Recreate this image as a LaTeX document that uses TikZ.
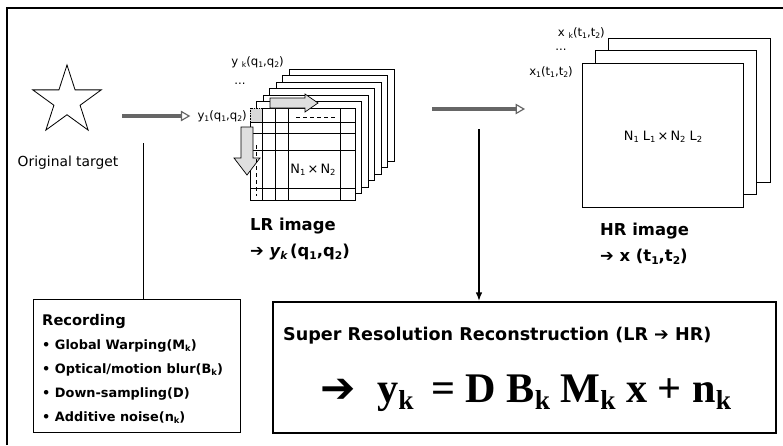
\documentclass[tikz,border=0pt]{standalone}
\usepackage{fontspec}
\setmainfont{DejaVu Sans}
\newfontfamily\eqfont{Liberation Serif}
\usetikzlibrary{arrows.meta,calc,positioning,shapes.geometric}
\newcommand{\lo}[1]{\raisebox{-0.35ex}{\scalebox{0.65}{#1}}}

\begin{document}
\begin{tikzpicture}[x=0.03cm,y=-0.03cm,
  every node/.style={font=\fontsize{11}{13}\selectfont,inner sep=0pt},
  lbl/.style={font=\fontsize{10}{12}\selectfont},
  capt/.style={font=\fontsize{14}{16}\selectfont\bfseries,anchor=west},
  frm/.style={draw,fill=white,line width=0.8pt},
  cell/.style={draw,line width=0.6pt},
  blk/.style={draw,fill=gray!25,line width=0.6pt},
  grayarr/.style={-{Triangle[open,length=8pt,width=9pt,line width=1pt]},line width=3pt,draw=black!60},
  arr/.style={-{Latex[length=2.6mm,width=2mm]},line width=1.3pt}
]
\useasboundingbox (0,0) rectangle (783,445);
\draw[line width=0.9pt] (7,445) -- (7,8) -- (783,8);

% original target
\node[star,star points=5,star point ratio=2.618,draw,line width=0.7pt,
  minimum size=2.16cm] (star) at (67,101) {};
\node[font=\fontsize{11.8}{14}\selectfont] (orig) at (68,163) {Original target};

% LR stack
\foreach \k in {6,5,...,1}
  \draw[frm] ({250+6.5*\k},{108-6.5*\k}) rectangle ({355+6.5*\k},{200-6.5*\k});
\draw[frm] (250,108) rectangle (355,200);
\fill[gray!30] (250,108) rectangle (262,122);
\draw[densely dotted] (250,108) rectangle (262,122);
\foreach \gx in {262,275,288,340}
  \draw[cell] (\gx,108) -- (\gx,200);
\foreach \gy in {122,133,150,188}
  \draw[cell] (250,\gy) -- (355,\gy);
\draw[blk] (270,98) -- (305,98) -- (305,94) -- (318,103) -- (305,112)
  -- (305,108) -- (270,108) -- cycle;
\draw[dashed] (296,117) -- (338,117);
\draw[blk] (241,127) -- (253,127) -- (253,158) -- (260,158) -- (247,175)
  -- (234,158) -- (241,158) -- cycle;
\draw[dashed] (256,145) -- (256,196);
\node[lbl,anchor=east] (y1) at (247,116) {y\lo{1}(q\lo{1},q\lo{2})};
\node[lbl] (ydots) at (240,84) {...};
\node[lbl,anchor=east] (yk) at (284,62) {y \lo{k}(q\lo{1},q\lo{2})};
\node (lrsize) at (313,170) {N\lo{1}\,×\,N\lo{2}};
\node[capt] (lrcap) at (250,226) {LR image};
\node[capt,below=22pt of lrcap.west,anchor=west] (lrvar)
  {➔ \textit{y\lo{k}}\,(q\lo{1},q\lo{2})};

% HR stack
\foreach \k in {2,1,0}
  \draw[frm] ({582+13*\k},{63-12.5*\k}) rectangle ({743+13.5*\k},{207-12.5*\k});
\node[lbl,anchor=east] (x1) at (573,72) {x\lo{1}(t\lo{1},t\lo{2})};
\node[lbl] (xdots) at (561,50) {...};
\node[lbl,anchor=east] (xk) at (605,33) {x \lo{k}(t\lo{1},t\lo{2})};
\node (hrsize) at (663,137) {N\lo{1} L\lo{1}\,×\,N\lo{2} L\lo{2}};
\node[capt] (hrcap) at (600,231) {HR image};
\node[capt,below=22pt of hrcap.west,anchor=west] (hrvar)
  {➔ x (t\lo{1},t\lo{2})};

% recording and reconstruction
\node[draw,line width=0.8pt,minimum width=6.21cm,minimum height=3.99cm,
  anchor=north west] (rec) at (33,299) {};
\node[anchor=north west,align=left,font=\fontsize{11}{20.5}\selectfont\bfseries]
  (rectxt) at (42,314) {{\fontsize{12.5}{14}\selectfont Recording}\\
  • Global Warping(M\lo{k})\\
  • Optical/motion blur(B\lo{k})\\
  • Down-sampling(D)\\
  • Additive noise(n\lo{k})};
\node[draw,line width=1.6pt,minimum width=15.09cm,minimum height=3.93cm,
  anchor=north west] (sr) at (272,301) {};
\node[anchor=west,font=\fontsize{15}{18}\selectfont\bfseries] (srtitle)
  at (283,336) {Super Resolution Reconstruction (LR ➔ HR)};
\node[font=\fontsize{36}{42}\selectfont] (sreq) at (526,393)
  {\bfseries ➔\enspace{\eqfont y\lo{k}\, = D B\lo{k} M\lo{k} x + n\lo{k}}};

% connectors
\coordinate (a1s) at (122,116);
\draw[grayarr] (a1s) -- ([xshift=-6pt]y1.west);
\coordinate (a2s) at (432,109);
\coordinate (a2e) at (525,109);
\draw[grayarr] (a2s) -- (a2e);
\coordinate (ltop) at (143,143);
\draw[line width=0.8pt] (ltop) -- (ltop |- rec.north);
\coordinate (a3s) at (479,129);
\draw[arr] (a3s) -- (a3s |- sr.north);
\end{tikzpicture}
\end{document}
